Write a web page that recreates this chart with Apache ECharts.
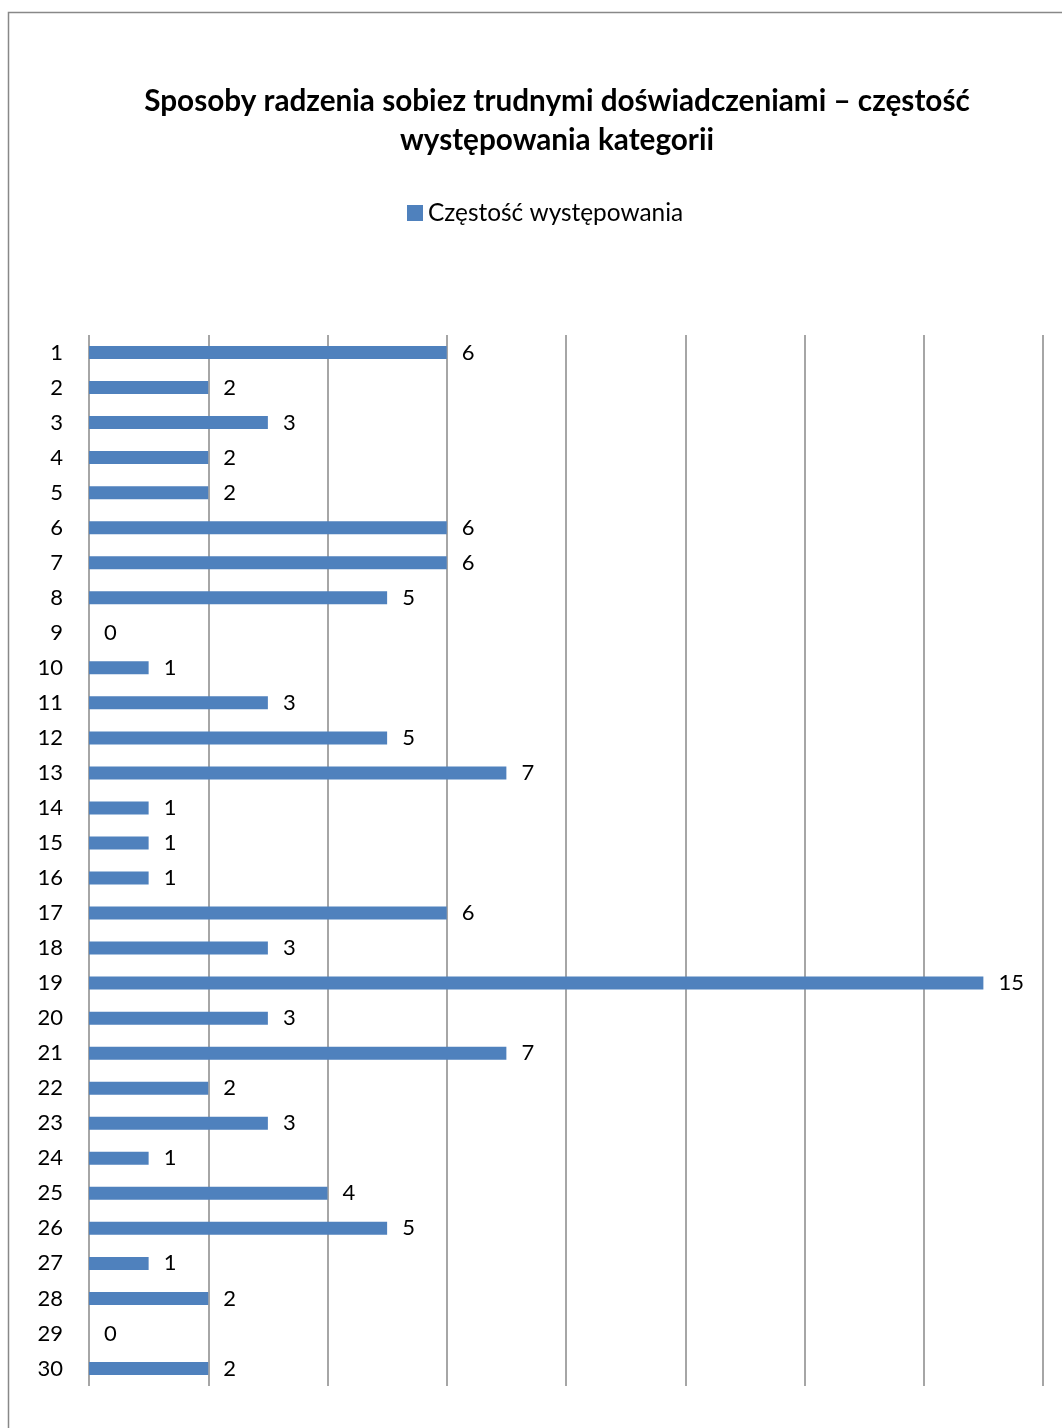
<!DOCTYPE html>
<html>
<head>
<meta charset="utf-8">
<script src="https://cdn.jsdelivr.net/npm/echarts@6/dist/echarts.min.js"></script>
<style>
  html, body { margin: 0; padding: 0; background: #fff; }
  #chart { width: 1062px; height: 1428px; }
</style>
</head>
<body>
<div id="chart"></div>
<script>
// Categories (numbered coping strategies) and their frequency counts
const categories = ['1','2','3','4','5','6','7','8','9','10','11','12','13','14','15',
                    '16','17','18','19','20','21','22','23','24','25','26','27','28','29','30'];
const frequency = [6, 2, 3, 2, 2, 6, 6, 5, 0, 1, 3, 5, 7, 1, 1,
                   1, 6, 3, 15, 3, 7, 2, 3, 1, 4, 5, 1, 2, 0, 2];
const seriesName = 'Częstość występowania';
const titleText = 'Sposoby radzenia sobiez trudnymi doświadczeniami – częstość\nwystępowania kategorii';

const FONT = 'Lato, "Open Sans", sans-serif';
const chart = echarts.init(document.getElementById('chart'), null, { renderer: 'canvas' });

chart.setOption({
  backgroundColor: '#ffffff',
  animation: false,
  textStyle: { fontFamily: FONT },
  title: {
    text: titleText,
    left: 552,
    textAlign: 'center',
    top: 77,
    textStyle: {
      fontFamily: FONT,
      fontSize: 29.7,
      fontWeight: 'bold',
      color: '#000',
      lineHeight: 39
    }
  },
  legend: {
    data: [seriesName],
    left: 402,
    top: 196,
    icon: 'rect',
    itemWidth: 16,
    itemHeight: 16,
    itemGap: 6,
    textStyle: { fontFamily: FONT, fontSize: 24.4, color: '#000' }
  },
  grid: {
    left: 89,
    right: 19,
    top: 335,
    height: 1051,
    containLabel: false
  },
  xAxis: {
    type: 'value',
    min: 0,
    max: 16,
    interval: 2,
    axisLine: { show: false },
    axisTick: { show: false },
    axisLabel: { show: false },
    splitLine: { show: true, lineStyle: { color: '#888888', width: 1.5 } }
  },
  yAxis: {
    type: 'category',
    data: categories,
    inverse: true,
    axisLine: { show: false },
    axisTick: { show: false },
    axisLabel: {
      margin: 26,
      fontFamily: FONT,
      fontSize: 22,
      color: '#000'
    }
  },
  series: [{
    name: seriesName,
    type: 'bar',
    data: frequency,
    barWidth: 13,
    itemStyle: { color: '#4f81bd' },
    label: {
      show: true,
      position: 'right',
      distance: 15,
      fontFamily: FONT,
      fontSize: 22,
      color: '#000'
    }
  }],
  graphic: [{
    type: 'rect',
    shape: { x: 8.5, y: 12.5, width: 1200, height: 1600 },
    style: { fill: null, stroke: '#888888', lineWidth: 1.5 },
    silent: true,
    z: -1
  }]
});
</script>
</body>
</html>
